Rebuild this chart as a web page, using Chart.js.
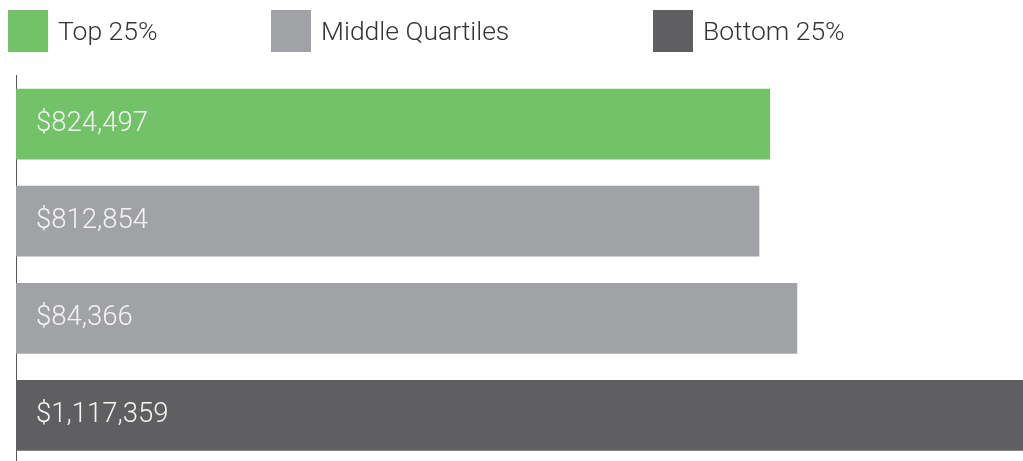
<!DOCTYPE html>
<html>
<head>
<meta charset="utf-8">
<script src="https://cdn.jsdelivr.net/npm/chart.js@4/dist/chart.umd.min.js"></script>
<style>
  html, body { margin: 0; padding: 0; background: #ffffff; overflow: hidden; }
  #wrap { position: relative; width: 1023px; height: 464px; }
</style>
</head>
<body>
<div id="wrap"><canvas id="c"></canvas></div>
<script>
// ---- data ----
const categories = ["Top 25%", "Middle Quartiles (upper)", "Middle Quartiles (lower)", "Bottom 25%"];
const values = [824497, 812854, 854366, 1117359];
const valueLabels = ["$824,497", "$812,854", "$84,366", "$1,117,359"];
const barColors = ["#72c267", "#a1a2a6", "#a1a2a6", "#5f5f61"];
const legendLabels = ["Top 25%", "Middle Quartiles", "Bottom 25%"];
const legendColors = ["#72c267", "#a1a2a6", "#5f5f61"];

const FONT = "'Roboto', 'Liberation Sans', sans-serif";

const legendPlugin = {
  id: 'customLegend',
  afterDraw(chart) {
    const ctx = chart.ctx;
    const xs = [8, 271, 653];
    ctx.save();
    legendLabels.forEach((lab, i) => {
      ctx.fillStyle = legendColors[i];
      ctx.fillRect(xs[i], 10, 40, 42);
      ctx.fillStyle = '#333333';
      ctx.font = '300 26.5px ' + FONT;
      ctx.textBaseline = 'middle';
      ctx.textAlign = 'left';
      ctx.fillText(lab, xs[i] + 50, 33);
    });
    ctx.restore();
  }
};

const valueLabelPlugin = {
  id: 'valueLabels',
  afterDatasetsDraw(chart) {
    const ctx = chart.ctx;
    const meta = chart.getDatasetMeta(0);
    ctx.save();
    ctx.fillStyle = '#f4f4f4';
    ctx.font = '300 27.5px ' + FONT;
    ctx.textBaseline = 'middle';
    ctx.textAlign = 'left';
    meta.data.forEach((bar, i) => {
      ctx.fillText(valueLabels[i], chart.chartArea.left + 20, bar.y);
    });
    ctx.restore();
  }
};

new Chart(document.getElementById('c'), {
  type: 'bar',
  data: {
    labels: categories,
    datasets: [{
      data: values,
      backgroundColor: barColors,
      borderWidth: 0,
      barThickness: 70,
      categoryPercentage: 1,
      barPercentage: 1
    }]
  },
  options: {
    indexAxis: 'y',
    responsive: true,
    maintainAspectRatio: false,
    animation: false,
    layout: { padding: { left: 16, top: 75.5, right: 0, bottom: 0 } },
    plugins: { legend: { display: false }, tooltip: { enabled: false } },
    scales: {
      x: { display: false, min: 0, max: 1101700 },
      y: {
        display: true,
        afterFit(scale) { scale.width = 0; },
        ticks: { display: false },
        grid: { display: false, drawTicks: false },
        border: { display: true, color: '#555555', width: 1 }
      }
    }
  },
  plugins: [legendPlugin, valueLabelPlugin]
});
</script>
</body>
</html>
